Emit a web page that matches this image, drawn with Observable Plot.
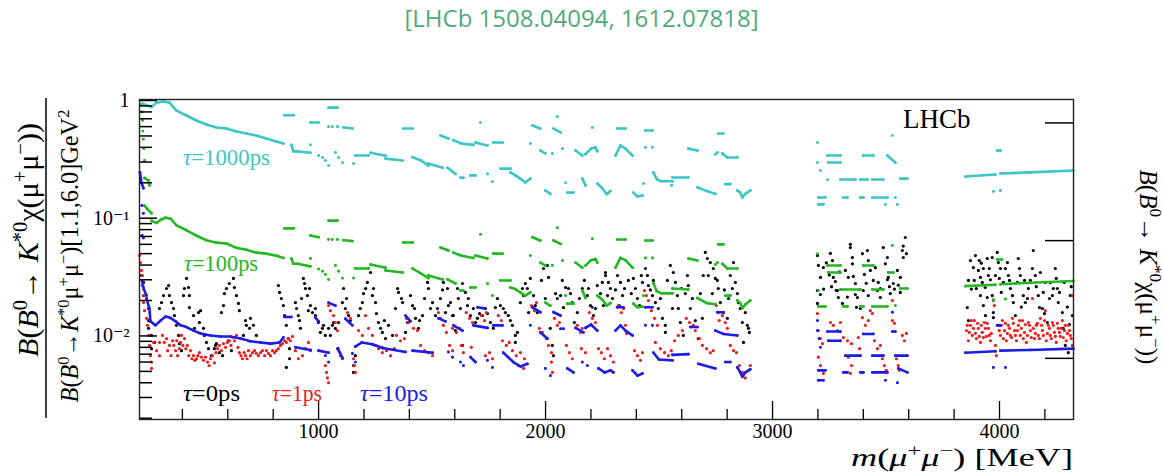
<!DOCTYPE html>
<html><head><meta charset="utf-8">
<script src="https://cdn.jsdelivr.net/npm/d3@7"></script>
<script src="https://cdn.jsdelivr.net/npm/@observablehq/plot@0.6"></script>
<style>
body{margin:0;background:#fff;}
#title{height:40px;line-height:36px;text-align:center;font-family:"Open Sans",sans-serif;font-size:24px;color:#4fa97b;}
#chart svg text{font-family:'Liberation Serif','DejaVu Serif',serif;}
#chart g[aria-label$="tick label"]{font-size:20px;font-family:'Liberation Serif','DejaVu Serif',serif;}
</style></head><body>
<div id="title">[LHCb 1508.04094, 1612.07818]</div>
<div id="chart"></div>
<script>
// ---- axes / scale values ----
const massDomain = [211, 4326];            // MeV
const ratioDomain = [0.00195, 1.02];
const rightScale = 1.55e-7;                // B(B0->K*0 mu mu)[1.1,6.0]
const leftMajorTicks = [1, 0.1, 0.01];
const leftMinorTicks = [0.9,0.8,0.7,0.6,0.5,0.4,0.3,0.2,0.09,0.08,0.07,0.06,0.05,0.04,0.03,0.02,0.009,0.008,0.007,0.006,0.005,0.004,0.003,0.002];
const rightTicks = [1e-7, 1e-8, 1e-9];
const massMajorTicks = [1000, 2000, 3000, 4000];
const massMinorTicks = [400,600,800,1200,1400,1600,1800,2200,2400,2600,2800,3200,3400,3600,3800,4200];

// ---- series: tau = 1000 ps (runs of [mass, ratio]) ----
const tau1000Runs = [
 [[224,0.94],[264,0.88],[286,0.96],[317,0.98],[343,0.96],[374,0.82],[418,0.746],[462,0.676],[506,0.625],[550,0.589],[594,0.578],[638,0.545],[682,0.524],[726,0.504],[770,0.475],[814,0.448],[845,0.431]],
 [[850,0.75],[890,0.75]],
 [[880,0.42],[889,0.37],[907,0.37],[964,0.36]],
 [[964,0.42]],
 [[964,0.65],[1000,0.65]],
 [[1044,0.87],[1083,0.87]],
 [[1044,0.60]],[[1060,0.60]],[[1083,0.60]],
 [[1110,0.59],[1149,0.58]],
 [[1000,0.341]],[[1017,0.328]],[[1030,0.309]],[[1044,0.28]],
 [[1074,0.362]],[[1088,0.328]],[[1105,0.297]],
 [[1154,0.291]],
 [[1162,0.341],[1220,0.341]],
 [[1229,0.36],[1295,0.34]],
 [[1295,0.321],[1370,0.309]],
 [[1374,0.578],[1414,0.578]],
 [[1414,0.33],[1450,0.31],[1484,0.28]],
 [[1484,0.291],[1546,0.268]],
 [[1537,0.504],[1572,0.475]],
 [[1568,0.268],[1603,0.238]],
 [[1594,0.46],[1630,0.43],[1682,0.42]],
 [[1625,0.221],[1638,0.221]],
 [[1669,0.231],[1691,0.231]],
 [[1691,0.44],[1744,0.415]],
 [[1713,0.65]],
 [[1744,0.238]],[[1766,0.205]],
 [[1770,0.44],[1810,0.44]],
 [[1801,0.264],[1845,0.264]],
 [[1845,0.245],[1867,0.231],[1889,0.217],[1911,0.201],[1933,0.217]],
 [[1933,0.431]],
 [[1942,0.613],[1977,0.578]],
 [[1977,0.376],[1999,0.355]],
 [[1999,0.172],[2021,0.161]],
 [[2035,0.578],[2066,0.535]],
 [[2052,0.73]],
 [[2030,0.355]],
 [[2074,0.39]],
 [[2088,0.20]],
 [[2096,0.165],[2123,0.165]],
 [[2132,0.376],[2162,0.341]],
 [[2162,0.217],[2176,0.19]],
 [[2176,0.35],[2200,0.39],[2220,0.40],[2228,0.37]],
 [[2206,0.59]],
 [[2228,0.197],[2250,0.18],[2270,0.16],[2286,0.17]],
 [[2316,0.578],[2352,0.578]],
 [[2308,0.341],[2330,0.415],[2352,0.39],[2383,0.341]],
 [[2387,0.165],[2405,0.153],[2427,0.156]],
 [[2431,0.197]],
 [[2440,0.556],[2471,0.556]],
 [[2440,0.40]],[[2471,0.40]],
 [[2475,0.245],[2490,0.215],[2510,0.206],[2559,0.206]],
 [[2559,0.222],[2629,0.222]],
 [[2555,0.19]],
 [[2629,0.39],[2669,0.376]],
 [[2669,0.183],[2710,0.17],[2748,0.161]],
 [[2761,0.524],[2783,0.524]],
 [[2748,0.35]],[[2757,0.362]],
 [[2779,0.355],[2801,0.328],[2845,0.328]],
 [[2792,0.195],[2814,0.195]],
 [[2845,0.172],[2858,0.165],[2867,0.15],[2880,0.161],[2902,0.172]],
 [[3198,0.44]],
 [[3198,0.297]],[[3211,0.254]],
 [[3242,0.341],[3299,0.341]],
 [[3246,0.297],[3299,0.297]],
 [[3242,0.213]],
 [[3202,0.15],[3233,0.15]],
 [[3202,0.131],[3224,0.131]],
 [[3299,0.213],[3365,0.213]],
 [[3312,0.15],[3330,0.15]],
 [[3387,0.213],[3418,0.213]],
 [[3400,0.341],[3444,0.341]],
 [[3387,0.15],[3400,0.15]],
 [[3440,0.213],[3488,0.213]],
 [[3440,0.15],[3506,0.15]],
 [[3497,0.131]],
 [[3506,0.341],[3541,0.297]],
 [[3528,0.504]],
 [[3541,0.15]],[[3550,0.131]],
 [[3563,0.217],[3594,0.217]],
 [[3850,0.226],[3982,0.235]],
 [[4004,0.24],[4136,0.245],[4325,0.254]],
 [[3990,0.376],[4004,0.376]],
 [[3973,0.169]],[[4004,0.172]]
];

// ---- series: tau = 100 ps ----
const tau100Runs = [
 [[218,0.92]],[[222,0.80]],[[224,0.68]],[[226,0.55]],[[228,0.47]],[[230,0.39]],[[233,0.31]],
 [[233,0.22],[250,0.21],[255,0.19]],
 [[233,0.128],[245,0.12],[264,0.11]],
 [[264,0.095],[286,0.091],[304,0.097],[326,0.101],[348,0.099],[374,0.087],[418,0.079],[462,0.071],[506,0.065],[550,0.062],[594,0.061],[638,0.056],[682,0.054],[726,0.051],[770,0.05],[814,0.048],[845,0.046]],
 [[850,0.082],[890,0.082]],
 [[880,0.0455],[889,0.041],[907,0.041],[964,0.039]],
 [[964,0.0455]],
 [[964,0.0713],[1000,0.069]],
 [[1044,0.0955],[1083,0.0955]],
 [[1044,0.066]],[[1060,0.066]],[[1083,0.066]],
 [[1110,0.065],[1149,0.064]],
 [[1000,0.037]],[[1017,0.0355]],[[1030,0.0333]],[[1044,0.0302]],
 [[1074,0.0397]],[[1088,0.0355]],[[1105,0.031]],
 [[1154,0.031]],
 [[1162,0.0374],[1220,0.0374]],
 [[1229,0.0405],[1295,0.038]],
 [[1295,0.036],[1370,0.0346]],
 [[1374,0.0622],[1414,0.0622]],
 [[1414,0.0374],[1450,0.034],[1484,0.031]],
 [[1484,0.0326],[1546,0.0302]],
 [[1537,0.0563],[1572,0.0532]],
 [[1568,0.0302],[1603,0.0279]],
 [[1594,0.051],[1630,0.048],[1682,0.046]],
 [[1625,0.0243],[1638,0.0243]],
 [[1669,0.0258],[1691,0.0258]],
 [[1691,0.0482],[1744,0.0455]],
 [[1713,0.073]],
 [[1744,0.0279]],[[1766,0.022]],
 [[1770,0.05],[1810,0.05]],
 [[1801,0.0296],[1845,0.0296]],
 [[1845,0.0258],[1867,0.025],[1889,0.0234],[1911,0.022],[1933,0.0234]],
 [[1933,0.0482]],
 [[1942,0.069],[1977,0.0647]],
 [[1977,0.042],[1999,0.0397]],
 [[1999,0.0192],[2021,0.0181]],
 [[2035,0.0647],[2066,0.0605]],
 [[2052,0.083]],
 [[2030,0.0397]],
 [[2074,0.0437]],
 [[2088,0.022]],
 [[2096,0.0188],[2123,0.0188]],
 [[2132,0.042],[2162,0.038]],
 [[2162,0.0243],[2176,0.021]],
 [[2176,0.0395],[2200,0.044],[2220,0.045],[2228,0.042]],
 [[2206,0.067]],
 [[2228,0.022],[2250,0.0203],[2270,0.0181],[2286,0.019]],
 [[2316,0.066],[2352,0.066]],
 [[2308,0.038],[2330,0.046],[2352,0.044],[2383,0.038]],
 [[2387,0.0188],[2405,0.0175],[2427,0.0177]],
 [[2431,0.022]],
 [[2440,0.0647],[2471,0.0647]],
 [[2440,0.046]],[[2471,0.046]],
 [[2475,0.028],[2490,0.024],[2510,0.023],[2559,0.023]],
 [[2559,0.0253],[2629,0.0248]],
 [[2629,0.0455],[2669,0.0437]],
 [[2669,0.021],[2710,0.019],[2748,0.0186]],
 [[2761,0.060],[2783,0.060]],
 [[2748,0.0405]],[[2757,0.042]],
 [[2779,0.041],[2801,0.0374],[2845,0.0374]],
 [[2792,0.022],[2814,0.022]],
 [[2845,0.02],[2858,0.019],[2867,0.0172],[2880,0.0185],[2902,0.02]],
 [[3198,0.0498]],
 [[3202,0.0243]],
 [[3242,0.0397],[3299,0.0397]],
 [[3246,0.0346],[3299,0.0346]],
 [[3202,0.0178],[3233,0.0178]],
 [[3299,0.0248],[3387,0.0248]],
 [[3312,0.0178],[3330,0.0178]],
 [[3400,0.0397],[3444,0.0397]],
 [[3387,0.0178],[3400,0.0178]],
 [[3440,0.0248],[3488,0.0248]],
 [[3440,0.0178],[3506,0.0178]],
 [[3510,0.0346],[3532,0.0346]],
 [[3528,0.0587]],
 [[3563,0.0253],[3594,0.0253]],
 [[3541,0.0181]],
 [[3850,0.0265],[3982,0.0272]],
 [[4004,0.0275],[4136,0.0283],[4325,0.0293]],
 [[3990,0.0446],[4010,0.0446]],
 [[3973,0.0203]],[[4026,0.0206]]
];

// ---- series: tau = 10 ps ----
const tau10Runs = [
 [[213,0.245],[220,0.2],[228,0.18]],
 [[222,0.128]],[[228,0.11]],
 [[222,0.0713]],[[228,0.068]],
 [[222,0.0296],[230,0.025],[242,0.022]],
 [[242,0.0208],[255,0.017],[259,0.0133]],
 [[259,0.0133],[281,0.0123],[304,0.0135],[326,0.0146],[348,0.0142],[370,0.0133],[392,0.0123],[418,0.0119],[449,0.0111],[480,0.0105],[524,0.0101],[568,0.0099],[612,0.0099],[656,0.0095],[700,0.009],[744,0.0088],[788,0.0086],[828,0.0088],[845,0.0097]],
 [[850,0.0145],[880,0.0145]],
 [[898,0.008],[964,0.0076]],
 [[986,0.0143],[1000,0.0133]],
 [[1000,0.0075],[1044,0.0072]],
 [[1030,0.0068]],[[1044,0.006]],
 [[1044,0.0192],[1074,0.0181]],
 [[1083,0.0078],[1094,0.0072],[1105,0.0065]],
 [[1118,0.014],[1149,0.0123]],
 [[1149,0.0071]],[[1162,0.006]],
 [[1162,0.0081],[1190,0.0088],[1237,0.0085],[1282,0.0079]],
 [[1282,0.0079],[1383,0.0073]],
 [[1383,0.0149],[1405,0.0133]],
 [[1414,0.0075],[1502,0.0072]],
 [[1528,0.0141],[1559,0.0133]],
 [[1572,0.0073]],[[1590,0.0066]],
 [[1594,0.0123],[1634,0.0111]],
 [[1625,0.006]],[[1638,0.0056]],
 [[1669,0.0066],[1691,0.006]],
 [[1700,0.0175],[1726,0.0172]],
 [[1682,0.0123],[1744,0.0117]],
 [[1744,0.0062]],[[1766,0.0054]],
 [[1770,0.0123],[1810,0.0123]],
 [[1814,0.0072],[1835,0.0066],[1858,0.006],[1890,0.0055],[1920,0.0058]],
 [[1933,0.0123]],
 [[1942,0.0175],[1977,0.0159]],
 [[1977,0.0107],[2008,0.0095]],
 [[1999,0.0053]],[[2021,0.0046]],
 [[2035,0.0159],[2066,0.0149]],
 [[2066,0.0115],[2079,0.0115]],
 [[2096,0.0053],[2123,0.0049]],
 [[2132,0.0117],[2167,0.0107]],
 [[2162,0.006]],[[2184,0.0056]],
 [[2176,0.0117],[2200,0.0125],[2228,0.0111]],
 [[2206,0.0175]],
 [[2233,0.0053],[2260,0.0049],[2286,0.0051],[2299,0.0049]],
 [[2316,0.0175],[2343,0.0175]],
 [[2308,0.0111],[2330,0.0123],[2352,0.0111],[2383,0.0101]],
 [[2383,0.0051],[2405,0.0046],[2427,0.0048]],
 [[2440,0.0175],[2471,0.0175]],
 [[2440,0.0123]],[[2471,0.0123]],
 [[2475,0.0072],[2500,0.0063],[2559,0.0062]],
 [[2559,0.0069],[2629,0.007]],
 [[2638,0.0119],[2669,0.0119]],
 [[2673,0.0058],[2748,0.0053]],
 [[2757,0.0159],[2783,0.0159]],
 [[2748,0.0111],[2783,0.0104],[2845,0.0101]],
 [[2792,0.006],[2814,0.006]],
 [[2845,0.0054],[2858,0.0049],[2867,0.0045],[2880,0.0049],[2902,0.0052]],
 [[3198,0.0135]],
 [[3198,0.0111]],[[3205,0.0095]],[[3211,0.008]],
 [[3242,0.0109],[3299,0.0109]],
 [[3246,0.0091],[3299,0.0091]],
 [[3202,0.0051],[3233,0.0051]],
 [[3202,0.0042],[3224,0.0042]],
 [[3321,0.0068],[3387,0.0068]],
 [[3312,0.0049],[3330,0.0049]],
 [[3387,0.0049],[3400,0.0049]],
 [[3400,0.0104],[3444,0.0104]],
 [[3440,0.0068],[3488,0.0068]],
 [[3440,0.0049],[3506,0.0049]],
 [[3497,0.0042]],
 [[3528,0.0159]],
 [[3528,0.0109],[3541,0.0109]],
 [[3541,0.0068],[3594,0.0068]],
 [[3550,0.004]],
 [[3554,0.0053],[3594,0.0049]],
 [[3850,0.0072],[3982,0.0074]],
 [[4004,0.0075],[4136,0.0076],[4325,0.0078]],
 [[3990,0.0123],[4004,0.0123]],
 [[3973,0.0054]],[[4026,0.0054]]
];

// ---- series: tau = 0 ps (points [mass, ratio]) ----
const tau0Points = [
 [220,0.0326],[229,0.0285],[229,0.022],[251,0.0171],[251,0.0135],[251,0.0116],[264,0.0101],[264,0.0078],[277,0.0088],[299,0.0171],[308,0.0192],[317,0.022],[330,0.0253],[339,0.0268],[343,0.022],[352,0.0192],[361,0.0171],[365,0.0149],[374,0.0123],[383,0.0101],[387,0.0086],[396,0.0075],[405,0.022],[409,0.0253],[418,0.0308],[427,0.0258],[431,0.022],[431,0.0174],[449,0.0149],[453,0.0116],[471,0.0158],[475,0.013],[480,0.0164],[493,0.0116],[497,0.0101],[506,0.0088],[515,0.0078],[528,0.0068],[541,0.0078],[546,0.0083],[550,0.0086],[563,0.0072],[572,0.0158],[577,0.0068],[581,0.0181],[585,0.0229],[594,0.0253],[603,0.0091],[607,0.0279],[616,0.0075],[625,0.0308],[629,0.0258],[638,0.022],[647,0.0189],[651,0.0164],[669,0.0101],[678,0.0135],[682,0.0123],[696,0.0116],[700,0.0141],[713,0.0123],[726,0.0101],[823,0.0268],[828,0.0234],[836,0.0208],[845,0.0181],[850,0.0149],[858,0.0123],[867,0.0095],[872,0.0078],[872,0.0064],[858,0.0054],
 [898,0.0192],[903,0.0171],[911,0.0149],[916,0.0135],[920,0.0116],[925,0.0208],[933,0.0308],[938,0.0279],[942,0.0253],[951,0.022],[955,0.0164],[960,0.0253],[964,0.0181],[973,0.0158],[986,0.0171],[986,0.0149],[999,0.013],[1008,0.0107],[1017,0.0116],[1022,0.0123],[1030,0.0101],[1044,0.0116],[1052,0.0101],[1061,0.0123],[1066,0.013],[1074,0.0116],[1088,0.013],[1105,0.0192],[1110,0.0253],[1118,0.0171],[1123,0.0208],[1132,0.0149],[1140,0.0135],[1154,0.0056],[1154,0.0049],[1162,0.0068],[1176,0.0149],[1184,0.0171],[1193,0.0192],[1198,0.0229],[1207,0.0253],[1215,0.0285],[1229,0.0346],[1237,0.022],[1242,0.0253],[1251,0.0192],[1255,0.0155],[1264,0.013],[1273,0.0116],[1281,0.0107],[1290,0.0135],[1295,0.0095],[1308,0.0123],[1326,0.0101],[1339,0.0171],[1348,0.0253],[1352,0.0234],[1365,0.0208],[1370,0.0192],[1383,0.0107],[1392,0.013],[1405,0.022],[1414,0.0181],[1423,0.0171],[1427,0.0141],[1440,0.0116],[1445,0.0135],[1458,0.0149],[1467,0.0208],[1480,0.0285],[1484,0.0253],[1493,0.0171],[1502,0.0192],[1515,0.0149],[1524,0.0171],[1537,0.0208],[1546,0.0246],[1550,0.0285],[1559,0.0158],[1568,0.0253],[1572,0.0181],[1590,0.0149],
 [1581,0.0192],[1594,0.0149],[1603,0.0111],[1612,0.0253],[1616,0.0208],[1625,0.0171],[1634,0.0279],[1634,0.0083],[1647,0.0234],[1656,0.0181],[1660,0.0208],[1669,0.0149],[1682,0.0171],[1691,0.013],[1700,0.0141],[1709,0.0155],[1722,0.0149],[1735,0.0171],[1744,0.0155],[1757,0.013],[1770,0.0116],[1779,0.0174],[1788,0.0208],[1801,0.0181],[1814,0.0171],[1823,0.0158],[1836,0.0149],[1845,0.0135],[1854,0.0123],[1867,0.0101],[1867,0.0088],[1876,0.0107],[1889,0.0192],[1898,0.0253],[1903,0.022],[1911,0.0279],[1920,0.0253],[1925,0.0158],[1933,0.0308],[1947,0.022],[1955,0.0181],[1964,0.0158],[1982,0.0296],[1991,0.0374],[1999,0.0208],[2008,0.0397],[2013,0.0314],[2021,0.0116],[2030,0.0083],[2035,0.0068],[2044,0.0229],[2052,0.0208],[2066,0.022],[2074,0.0296],[2079,0.0174],[2088,0.0258],[2101,0.0253],[2110,0.0229],[2118,0.0192],[2127,0.013],[2140,0.0158],[2149,0.0208],[2162,0.0253],[2171,0.0296],[2184,0.022],[2189,0.0253],[2198,0.0181],[2211,0.0149],[2220,0.0171],[2228,0.0268],[2242,0.0229],[2250,0.0285],[2255,0.0181],[2264,0.0326],[2273,0.022],
 [2264,0.0346],[2277,0.0285],[2286,0.0253],[2295,0.0208],[2308,0.0246],[2317,0.0326],[2325,0.0181],[2330,0.0285],[2339,0.022],[2348,0.0253],[2365,0.0296],[2378,0.0229],[2387,0.0308],[2396,0.0253],[2405,0.0208],[2414,0.0181],[2422,0.0326],[2427,0.0285],[2440,0.0374],[2449,0.0326],[2453,0.0268],[2462,0.0246],[2471,0.022],[2475,0.0296],[2484,0.0192],[2497,0.0171],[2506,0.0208],[2515,0.0141],[2528,0.0123],[2528,0.0107],[2537,0.0296],[2550,0.0397],[2559,0.0171],[2563,0.0346],[2572,0.0285],[2581,0.022],[2585,0.0171],[2594,0.013],[2599,0.0253],[2607,0.0101],[2616,0.0229],[2625,0.0326],[2629,0.0268],[2638,0.0171],[2647,0.0208],[2660,0.0135],[2673,0.0095],[2682,0.0229],[2691,0.0141],[2695,0.0326],[2704,0.0512],[2713,0.0455],[2717,0.0326],[2726,0.042],[2735,0.0229],[2739,0.0374],[2748,0.0308],[2757,0.0296],[2761,0.0253],[2770,0.0192],[2783,0.0158],[2788,0.0246],[2801,0.0141],[2806,0.0208],[2814,0.0326],[2823,0.0253],[2828,0.042],[2836,0.0285],[2845,0.0229],[2850,0.0192],[2858,0.0171],[2867,0.013],[2872,0.0088],[2880,0.0158],[2889,0.0123],[2894,0.0116],[2898,0.0107],
 [3198,0.0482],[3202,0.0397],[3211,0.0314],[3211,0.0225],[3198,0.0243],[3198,0.0189],[3224,0.0381],[3225,0.025],[3237,0.0418],[3250,0.033],[3255,0.0502],[3260,0.0262],[3264,0.0437],[3268,0.0314],[3277,0.029],[3281,0.0244],[3286,0.0243],[3290,0.0212],[3295,0.035],[3308,0.0189],[3321,0.036],[3330,0.0214],[3334,0.0314],[3343,0.0563],[3343,0.06],[3352,0.0464],[3352,0.041],[3356,0.032],[3365,0.0279],[3365,0.0225],[3370,0.0175],[3374,0.0212],[3387,0.0171],[3396,0.05],[3400,0.0243],[3405,0.0333],[3413,0.028],[3418,0.0532],[3422,0.0437],[3422,0.022],[3431,0.036],[3444,0.0296],[3453,0.038],[3462,0.0243],[3466,0.0285],[3475,0.0212],[3475,0.0253],[3488,0.0563],[3497,0.041],[3506,0.0464],[3506,0.03],[3510,0.0314],[3515,0.0262],[3519,0.0229],[3532,0.0279],[3537,0.025],[3550,0.036],[3554,0.027],[3563,0.0314],[3563,0.0234],[3572,0.0532],[3576,0.0464],[3576,0.058],[3585,0.0686],[3590,0.05],
 [3858,0.0174],[3863,0.0135],[3863,0.0296],[3872,0.0437],[3876,0.025],[3885,0.0381],[3889,0.0296],[3894,0.0482],[3898,0.0253],[3907,0.036],[3911,0.0437],[3916,0.0314],[3916,0.022],[3920,0.0415],[3924,0.0285],[3929,0.0374],[3929,0.0181],[3937,0.0258],[3938,0.0149],[3946,0.0455],[3946,0.0212],[3951,0.0326],[3955,0.0374],[3960,0.03],[3968,0.0464],[3968,0.022],[3973,0.0158],[3973,0.0143],[3982,0.0326],[3990,0.0512],[3995,0.042],[3999,0.0308],[4004,0.0374],[4008,0.0234],[4017,0.0285],[4026,0.0374],[4035,0.042],[4039,0.0326],[4044,0.0296],[4048,0.0253],[4057,0.022],[4061,0.0192],[4070,0.0149],[4079,0.0285],[4083,0.0455],[4088,0.0374],[4092,0.0326],[4096,0.0176],[4105,0.022],[4110,0.0296],[4114,0.0192],[4123,0.0208],[4127,0.0253],[4136,0.0296],[4145,0.0374],[4149,0.0532],[4158,0.0326],[4162,0.0262],[4171,0.022],[4176,0.0174],[4180,0.0346],[4189,0.0171],[4193,0.0234],[4198,0.0155],[4202,0.0285],[4211,0.013],[4220,0.0208],[4224,0.0285],[4233,0.022],[4237,0.0253],[4246,0.0374],[4250,0.0308],[4255,0.0253],[4259,0.0192],[4264,0.0234],[4277,0.0158],[4281,0.0116],[4285,0.0285],[4290,0.0083],[4299,0.0176],[4303,0.0072],[4308,0.0125],[4312,0.022],[4316,0.0262],[4321,0.0149]
];

// ---- series: tau = 1 ps ----
const tau1Points = [
 [211,0.0482],[215,0.042],[220,0.036],[224,0.0326],[224,0.0268],[229,0.022],[229,0.0192],[233,0.0164],[242,0.0141],[246,0.0123],[251,0.0101],[255,0.0083],[259,0.0068],[264,0.0053],[264,0.006],[273,0.0088],[286,0.0075],[299,0.0068],[299,0.0088],[312,0.0101],[320,0.0088],[330,0.0095],[335,0.0075],[343,0.0083],[350,0.0068],[357,0.0091],[362,0.0083],[370,0.0075],[375,0.0091],[379,0.0068],[387,0.0078],[392,0.0088],[396,0.0101],[402,0.0083],[409,0.0095],[415,0.0078],[422,0.0083],[428,0.0068],[436,0.0075],[442,0.0064],[449,0.0068],[455,0.0062],[462,0.0064],[468,0.0068],[475,0.0072],[484,0.0066],[493,0.0062],[502,0.0066],[511,0.006],[518,0.0056],[524,0.0064],[532,0.0068],[541,0.0059],[548,0.0072],[555,0.0078],[563,0.0083],[572,0.0075],[581,0.0086],[590,0.008],[598,0.0088],[607,0.0091],[614,0.0083],[621,0.0097],[630,0.0091],[638,0.0101],[645,0.008],[651,0.0072],[658,0.0068],[665,0.0064],[672,0.0072],[678,0.0068],[685,0.0064],[691,0.0075],[700,0.0068],[709,0.0072],[718,0.0075],[726,0.0071],[735,0.0068],[744,0.0072],[753,0.0075],[762,0.0068],[770,0.0075],[779,0.0071],[788,0.0068],[797,0.0075],[806,0.0072],[814,0.0075],[823,0.0078],[832,0.0083],[841,0.0086],[850,0.0091],[858,0.0088],[867,0.0095],[876,0.0091],[885,0.0099],
 [898,0.0075],[911,0.0064],[929,0.0068],[942,0.0078],[955,0.0088],[964,0.0075],[1030,0.0056],[1035,0.0049],[1039,0.0044],[1044,0.004],[1044,0.0181],[1052,0.0164],[1066,0.0149],[1074,0.013],[1083,0.0111],[1088,0.0078],[1096,0.0068],[1105,0.0064],[1127,0.0158],[1140,0.0141],[1154,0.0064],[1158,0.0056],[1162,0.0049],[1176,0.0111],[1193,0.0101],[1207,0.0149],[1220,0.0116],[1237,0.0101],[1251,0.0083],[1264,0.0078],[1281,0.0072],[1299,0.0075],[1317,0.0068],[1334,0.0078],[1343,0.0101],[1361,0.0091],[1378,0.0095],[1387,0.0141],[1396,0.013],[1418,0.0116],[1436,0.0111],[1449,0.0083],[1467,0.0075],[1484,0.0072],[1502,0.0068],[1528,0.0158],[1537,0.0141],[1550,0.0123],[1563,0.0107],[1577,0.0083],[1590,0.0075],
 [1590,0.0116],[1607,0.0107],[1621,0.0116],[1629,0.0083],[1638,0.0072],[1651,0.0158],[1665,0.0141],[1678,0.013],[1673,0.008],[1717,0.0149],[1731,0.0135],[1739,0.0158],[1735,0.0068],[1753,0.0072],[1766,0.0064],[1792,0.0149],[1805,0.0135],[1810,0.0091],[1827,0.0083],[1840,0.0088],[1854,0.0075],[1871,0.0068],[1889,0.0072],[1907,0.0064],[1880,0.0056],[1903,0.0053],[1938,0.0181],[1951,0.0164],[1960,0.0192],[1973,0.0116],[1986,0.0107],[2004,0.0095],[2013,0.0083],[2026,0.0072],[2026,0.006],[2030,0.0049],[2039,0.0141],[2052,0.0123],[2061,0.013],[2092,0.0083],[2105,0.0072],[2118,0.0064],[2140,0.0123],[2154,0.0107],[2162,0.0116],[2158,0.0078],[2176,0.0072],[2193,0.0158],[2206,0.0141],[2220,0.013],[2233,0.0078],[2246,0.0072],[2259,0.0064],
 [2273,0.0078],[2286,0.0068],[2299,0.006],[2321,0.0181],[2334,0.0158],[2343,0.0171],[2352,0.0123],[2357,0.0105],[2392,0.0075],[2405,0.0068],[2418,0.0062],[2427,0.0072],[2436,0.0243],[2444,0.022],[2453,0.02],[2466,0.0164],[2480,0.0141],[2493,0.0123],[2484,0.0088],[2506,0.0078],[2524,0.0072],[2541,0.0068],[2554,0.0075],[2568,0.0091],[2585,0.0101],[2603,0.0111],[2620,0.0141],[2634,0.013],[2651,0.0123],[2660,0.0111],[2678,0.0095],[2691,0.0083],[2709,0.0078],[2726,0.0072],[2739,0.0075],[2752,0.0181],[2761,0.0158],[2765,0.0135],[2779,0.0149],[2792,0.013],[2801,0.0116],[2814,0.0083],[2828,0.0075],[2841,0.0072],[2854,0.0056],[2867,0.0049],[2880,0.0044],[2894,0.0051],[2902,0.0056],
 [3198,0.0155],[3202,0.0111],[3211,0.0095],[3220,0.0086],[3202,0.0066],[3211,0.0056],[3224,0.0048],[3255,0.013],[3268,0.0123],[3286,0.0111],[3299,0.013],[3312,0.0097],[3330,0.0091],[3348,0.0086],[3334,0.0066],[3348,0.0056],[3343,0.0048],[3378,0.0097],[3383,0.0078],[3396,0.0143],[3409,0.0123],[3422,0.0135],[3431,0.0164],[3440,0.0155],[3449,0.0091],[3462,0.0078],[3475,0.0083],[3484,0.0064],[3493,0.0056],[3501,0.0051],[3528,0.02],[3528,0.0135],[3537,0.0128],[3546,0.0064],[3554,0.0056],[3559,0.0051],[3572,0.0101],[3581,0.0091],[3590,0.0105],
 [3854,0.0111],[3858,0.0123],[3863,0.0091],[3867,0.0107],[3872,0.0123],[3876,0.0135],[3880,0.0101],[3885,0.0116],[3889,0.0135],[3894,0.0105],[3898,0.0095],[3903,0.0128],[3907,0.0116],[3911,0.0099],[3916,0.0088],[3920,0.0123],[3924,0.0107],[3929,0.0097],[3933,0.013],[3938,0.0116],[3942,0.0099],[3946,0.0128],[3951,0.0116],[3955,0.0101],[3960,0.0091],[3964,0.0105],[3973,0.02],[3977,0.0181],[3982,0.0083],[3986,0.0068],[3995,0.0123],[3999,0.0111],[4004,0.0101],[4008,0.0123],[4013,0.0135],[4017,0.0095],[4022,0.0111],[4026,0.0128],[4030,0.0091],[4035,0.0105],[4039,0.0123],[4044,0.0116],[4048,0.0101],[4053,0.0097],[4057,0.0141],[4061,0.0128],[4066,0.0111],[4070,0.0101],[4075,0.0091],[4079,0.0111],[4083,0.0123],[4088,0.0135],[4092,0.0101],[4096,0.0116],[4101,0.0135],[4105,0.0095],[4110,0.0107],[4114,0.0125],[4118,0.0088],[4123,0.0101],[4127,0.013],[4132,0.0123],[4136,0.0111],[4140,0.0097],[4145,0.0208],[4149,0.0116],[4154,0.0095],[4158,0.0105],[4162,0.0123],[4167,0.0128],[4171,0.0101],[4176,0.0095],[4180,0.0141],[4185,0.0123],[4189,0.0111],[4193,0.0101],[4198,0.0135],[4202,0.0164],[4206,0.0091],[4211,0.0105],[4215,0.0123],[4220,0.0116],[4224,0.0101],[4228,0.0095],[4233,0.013],[4237,0.0123],[4242,0.0107],[4246,0.0099],[4250,0.0088],[4255,0.0128],[4259,0.0116],[4264,0.0107],[4268,0.0099],[4272,0.0116],[4277,0.0135],[4281,0.0097],[4286,0.0111],[4290,0.0123],[4294,0.0091],[4299,0.0105],[4303,0.0123],[4308,0.0111],[4312,0.0101],[4316,0.0095],[4321,0.022],[4321,0.0083]
];

const colors = {tau0:"#000000", tau1:"#ee1c1c", tau10:"#1c1ce6", tau100:"#22b822", tau1000:"#3cc6c6"};

// ---- build chart ----
const flatRuns = runs => runs.flatMap((run, i) => run.map(([m, v]) => ({m, v, run: i})));
const pts = arr => arr.map(([m, v]) => ({m, v}));
const supMap = {"-":"⁻","0":"⁰","1":"¹","2":"²","3":"³","4":"⁴","5":"⁵","6":"⁶","7":"⁷","8":"⁸","9":"⁹"};
const powLabel = e => e === 0 ? "1" : "10" + String(e).split("").map(c => supMap[c]).join("");

const W = 1163, H = 432, mL = 139, mR = 90, mT = 59, mB = 53;
const pw = W - mL - mR, ph = H - mT - mB;
const serif = "'Liberation Serif','DejaVu Serif',serif";

function seriesMarks(runs, color) {
  const rows = flatRuns(runs);
  return [
    Plot.line(rows, {x: "m", y: "v", z: "run", stroke: color, strokeWidth: 2.6, strokeLinecap: "round"}),
    Plot.dot(rows, {x: "m", y: "v", r: 1.4, fill: color, stroke: null})
  ];
}

const svg = Plot.plot({
  width: W, height: H,
  marginLeft: mL, marginRight: mR, marginTop: mT, marginBottom: mB,
  x: {domain: massDomain},
  y: {type: "log", domain: ratioDomain},
  style: {background: "#fff", overflow: "visible", fontFamily: serif, fontSize: "20px"},
  marks: [
    Plot.dot(pts(tau0Points), {x: "m", y: "v", r: 1.6, fill: colors.tau0, stroke: null}),
    Plot.dot(pts(tau1Points), {x: "m", y: "v", r: 1.6, fill: colors.tau1, stroke: null}),
    ...seriesMarks(tau10Runs, colors.tau10),
    ...seriesMarks(tau100Runs, colors.tau100),
    ...seriesMarks(tau1000Runs, colors.tau1000),
    // inward ticks
    Plot.tickY(leftMinorTicks, {y: d => d, insetRight: pw - 13, stroke: "#000", strokeWidth: 1.5}),
    Plot.tickY(leftMajorTicks, {y: d => d, insetRight: pw - 18, stroke: "#000", strokeWidth: 1.5}),
    Plot.tickY(rightTicks.map(t => t / rightScale), {y: d => d, insetLeft: pw - 28, stroke: "#000", strokeWidth: 1.5}),
    Plot.tickX(massMinorTicks, {x: d => d, insetTop: ph - 10, stroke: "#000", strokeWidth: 1.3}),
    Plot.tickX(massMajorTicks, {x: d => d, insetTop: ph - 18, stroke: "#000", strokeWidth: 1.3}),
    // tick labels
    Plot.axisY(leftMajorTicks, {anchor: "left", tickSize: 0, tickPadding: 10, tickFormat: d => powLabel(Math.round(Math.log10(d))), label: null, fontFamily: serif, fontSize: 21}),
    Plot.axisY(rightTicks.map(t => t / rightScale), {anchor: "right", tickSize: 0, tickPadding: 11, tickFormat: d => powLabel(Math.round(Math.log10(d * rightScale))), label: null, fontFamily: serif, fontSize: 21}),
    Plot.axisX(massMajorTicks, {anchor: "bottom", tickSize: 0, tickPadding: 4, tickFormat: d => String(d), label: null, fontFamily: serif, fontSize: 20}),
    Plot.frame({stroke: "#222", strokeWidth: 1.4})
  ]
});
document.getElementById("chart").appendChild(svg);

const S = d3.select(svg);

// ---- annotations (rich text with super/subscripts) ----
function rich(x, y, parts, opts) {
  const t = S.append("text").attr("x", x).attr("y", y)
    .attr("font-family", serif)
    .attr("font-size", opts.size).attr("fill", opts.fill || "#000")
    .attr("text-anchor", opts.anchor || "start");
  if (opts.rotate) t.attr("transform", `rotate(${opts.rotate},${x},${y})`);
  let shift = 0;
  for (const p of parts) {
    const small = p.sup || p.sub;
    const target = p.sup ? -0.38 : p.sub ? 0.15 : 0;
    const ts = t.append("tspan").text(p.t);
    if (small) ts.attr("font-size", "68%");
    if (target !== shift) ts.attr("dy", ((target - shift) / (small ? 0.68 : 1)).toFixed(3) + "em");
    shift = target;
    if (p.i) ts.attr("font-style", "italic");
  }
  if (opts.fit) {
    const len = t.node().getComputedTextLength();
    if (len > 0) t.attr("font-size", opts.size * opts.fit / len);
  }
  if (opts.stretch) t.attr("textLength", opts.stretch).attr("lengthAdjust", "spacingAndGlyphs");
  return t;
}
const N = s => ({t: s}), I = s => ({t: s, i: true}), U = s => ({t: s, sup: true});
const chiParts = [I("B"), N("("), I("B"), U("0"), N("→ "), I("K"), U("*0"), N("χ(μ"), U("+"), N("μ"), U("−"), N("))")];
const denParts = [I("B"), N("("), I("B"), U("0"), N("→"), I("K"), U("*0"), N("μ"), U("+"), N("μ"), U("−"), N(")[1.1,6.0]GeV"), U("2")];

rich(38, 200, chiParts, {size: 25, anchor: "middle", rotate: -90, fit: 234});
S.append("line").attr("x1", 46).attr("x2", 46).attr("y1", 58).attr("y2", 378).attr("stroke", "#000").attr("stroke-width", 1.5);
rich(78, 216, denParts, {size: 25, anchor: "middle", rotate: -90, fit: 293});
rich(1140, 227, chiParts, {size: 25, anchor: "middle", rotate: 90, fit: 195});
rich(1073, 426, [I("m"), N("("), I("μ"), U("+"), I("μ"), U("−"), N(") [MeV]")], {size: 25, anchor: "end", stretch: 222});

rich(903, 88, [N("LHCb")], {size: 27});
rich(183, 125, [I("τ"), N("=1000ps")], {size: 24, fill: colors.tau1000, stretch: 87});
rich(184, 231, [I("τ"), N("=100ps")], {size: 24, fill: colors.tau100, stretch: 74});
rich(183, 361, [I("τ"), N("=0ps")], {size: 24, fill: colors.tau0, stretch: 57});
rich(272, 361, [I("τ"), N("=1ps")], {size: 24, fill: colors.tau1, stretch: 50});
rich(360, 361, [I("τ"), N("=10ps")], {size: 24, fill: colors.tau10, stretch: 68});
</script></body></html>
